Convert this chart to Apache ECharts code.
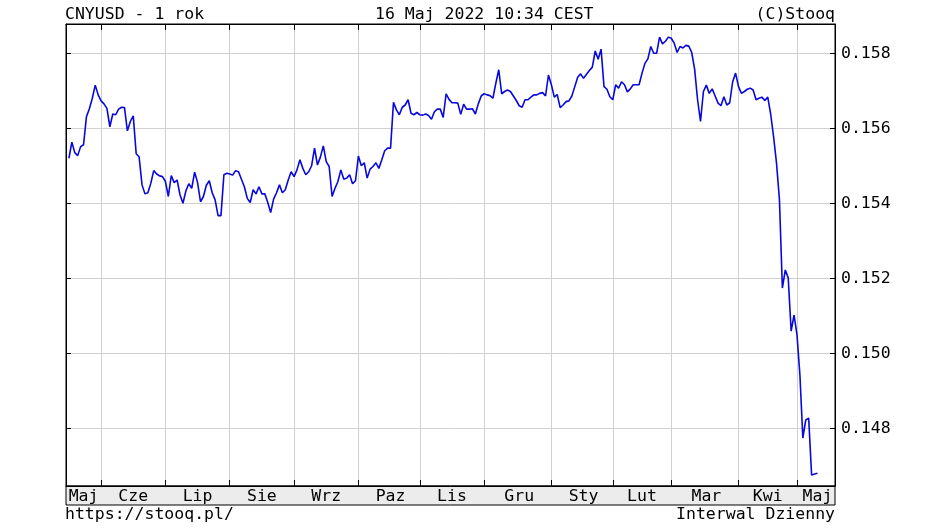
<!DOCTYPE html>
<html><head><meta charset="utf-8">
<script src="https://cdn.jsdelivr.net/npm/echarts@6/dist/echarts.min.js"></script>
<style>html,body{margin:0;padding:0;background:#fff}#c{width:940px;height:531px}</style>
</head><body><div id="c"></div>
<script>
// ---- data ----
const startDate = '2021-05-17';
const endDate = '2022-05-16';
const skippedDays = ['2022-04-15', '2022-05-02', '2022-05-03', '2022-05-04'];
const padBefore = ['2021-05-14'];
const padAfter = ['2022-05-17', '2022-05-18', '2022-05-19', '2022-05-20', '2022-05-23', '2022-05-24'];
const monthNames = ['Sty', 'Lut', 'Mar', 'Kwi', 'Maj', 'Cze', 'Lip', 'Sie', 'Wrz', 'Paz', 'Lis', 'Gru'];
const yMin = 0.14646;
const yMax = 0.15878;
const values = [
0.15520,0.15563,0.15535,0.15527,0.15551,0.15556,0.15631,0.15652,0.15680,0.15715,
0.15689,0.15673,0.15665,0.15653,0.15604,0.15638,0.15636,0.15651,0.15656,0.15655,
0.15593,0.15618,0.15633,0.15532,0.15524,0.15449,0.15425,0.15428,0.15453,0.15487,
0.15478,0.15473,0.15471,0.15458,0.15418,0.15474,0.15455,0.15462,0.15422,0.15400,
0.15433,0.15452,0.15440,0.15483,0.15455,0.15404,0.15418,0.15448,0.15460,0.15428,
0.15409,0.15367,0.15367,0.15476,0.15480,0.15478,0.15475,0.15487,0.15484,0.15464,
0.15444,0.15413,0.15402,0.15436,0.15425,0.15444,0.15425,0.15425,0.15402,0.15375,
0.15411,0.15428,0.15449,0.15428,0.15436,0.15462,0.15484,0.15471,0.15489,0.15516,
0.15493,0.15476,0.15484,0.15500,0.15547,0.15502,
0.15523,0.15553,0.15511,0.15498,0.15418,0.15440,0.15458,0.15489,0.15464,0.15467,
0.15476,0.15452,0.15460,0.15526,0.15500,0.15508,0.15467,0.15491,0.15498,0.15508,
0.15493,0.15516,0.15540,0.15547,0.15547,0.15669,0.15649,0.15636,0.15656,0.15662,
0.15676,0.15640,0.15636,0.15642,0.15636,0.15635,0.15638,0.15634,0.15624,0.15644,
0.15651,0.15651,0.15629,0.15692,0.15677,0.15668,0.15668,0.15667,0.15637,0.15664,
0.15651,0.15651,0.15652,0.15638,0.15665,0.15686,0.15692,0.15689,0.15687,0.15680,
0.15720,0.15756,0.15692,0.15698,0.15702,0.15698,0.15686,0.15674,0.15660,0.15656,
0.15676,0.15676,0.15683,0.15689,0.15689,0.15693,0.15695,0.15686,0.15742,0.15716,
0.15683,0.15690,
0.15655,0.15662,0.15671,0.15673,0.15686,0.15711,0.15736,0.15745,0.15733,0.15744,
0.15754,0.15763,0.15806,0.15784,0.15811,0.15711,0.15704,0.15684,0.15676,0.15716,
0.15707,0.15724,0.15716,0.15697,0.15705,0.15716,0.15716,0.15716,0.15747,0.15773,
0.15785,0.15818,0.15800,0.15800,0.15843,0.15825,0.15832,0.15843,0.15840,0.15827,
0.15802,0.15818,0.15814,0.15821,0.15819,0.15802,0.15757,0.15676,0.15618,0.15698,
0.15715,0.15693,0.15705,0.15686,0.15667,0.15660,0.15684,0.15662,0.15668,0.15724,
0.15747,0.15711,0.15693,0.15698,0.15704,0.15707,0.15702,0.15676,0.15680,0.15683,
0.15674,0.15683,
0.15638,0.15577,0.15507,0.15409,0.15174,0.15222,0.15201,0.15059,0.15102,0.15049,
0.14942,0.14774,0.14822,0.14827,0.14675,0.14678,0.14680
];

// ---- build ----
function iso(d) { return d.toISOString().slice(0, 10); }
const dates = [];
for (let d = new Date(startDate + 'T00:00:00Z'); iso(d) <= endDate; d.setUTCDate(d.getUTCDate() + 1)) {
  const wd = d.getUTCDay();
  const s = iso(d);
  if (wd !== 0 && wd !== 6 && skippedDays.indexOf(s) < 0) dates.push(s);
}
const categories = padBefore.concat(dates, padAfter);
const seriesData = dates.map((d, i) => [d, values[i]]);

const boundaries = new Set();
const starts = [0];
for (let k = 1; k < categories.length; k++) {
  if (categories[k].slice(0, 7) !== categories[k - 1].slice(0, 7)) { boundaries.add(k); starts.push(k); }
}
const labelMap = {};
for (let j = 0; j < starts.length; j++) {
  const s = starts[j];
  const e = j + 1 < starts.length ? starts[j + 1] : categories.length - 1;
  const mid = Math.round((s + e) / 2);
  labelMap[mid] = monthNames[parseInt(categories[s].slice(5, 7), 10) - 1];
}

const FONT = 'DejaVu Sans Mono';
const FS = 16.5;
const chart = echarts.init(document.getElementById('c'), null, { renderer: 'canvas' });
chart.setOption({
  animation: false,
  backgroundColor: '#fff',
  textStyle: { fontFamily: FONT },
  title: [
    { text: 'CNYUSD - 1 rok', left: 65, top: 6, padding: 0, textStyle: { fontFamily: FONT, fontSize: FS, fontWeight: 'normal', color: '#000' } },
    { text: '16 Maj 2022 10:34 CEST', left: 375, top: 6, padding: 0, textStyle: { fontFamily: FONT, fontSize: FS, fontWeight: 'normal', color: '#000' } },
    { text: '(C)Stooq', right: 105, top: 6, padding: 0, textStyle: { fontFamily: FONT, fontSize: FS, fontWeight: 'normal', color: '#000' } },
    { text: 'https://stooq.pl/', left: 65, top: 506, padding: 0, textStyle: { fontFamily: FONT, fontSize: FS, fontWeight: 'normal', color: '#000' } },
    { text: 'Interwal Dzienny', right: 105, top: 506, padding: 0, textStyle: { fontFamily: FONT, fontSize: FS, fontWeight: 'normal', color: '#000' } }
  ],
  graphic: [
    { type: 'rect', z: -1, shape: { x: 66, y: 486, width: 769, height: 19 }, style: { fill: '#ececec', stroke: '#000', lineWidth: 1 } }
  ],
  grid: { left: 66, right: 105, top: 24, bottom: 45, show: true, borderColor: '#000', borderWidth: 1 },
  xAxis: [
    {
      type: 'category', data: categories, boundaryGap: false, position: 'bottom',
      axisLine: { show: true, lineStyle: { color: '#000' } },
      axisTick: { show: true, inside: true, length: 6, interval: (i) => boundaries.has(i), lineStyle: { color: '#000' } },
      axisLabel: { show: true, interval: (i) => labelMap.hasOwnProperty(i), formatter: (v, i) => labelMap[i] || '', margin: 2, color: '#000', fontFamily: FONT, fontSize: FS },
      splitLine: { show: true, interval: (i) => boundaries.has(i), lineStyle: { color: '#d0d0d0', width: 1 } }
    },
    {
      type: 'category', data: categories, boundaryGap: false, position: 'top',
      axisLine: { show: true, lineStyle: { color: '#000' } },
      axisTick: { show: true, inside: true, length: 6, interval: (i) => boundaries.has(i), lineStyle: { color: '#000' } },
      axisLabel: { show: false },
      splitLine: { show: false }
    }
  ],
  yAxis: [
    {
      type: 'value', position: 'right', min: yMin, max: yMax, splitNumber: 6,
      axisLine: { show: true, lineStyle: { color: '#000' } },
      axisTick: { show: true, inside: true, length: 5, lineStyle: { color: '#000' } },
      axisLabel: { show: true, margin: 6, color: '#000', fontFamily: FONT, fontSize: FS, showMinLabel: false, showMaxLabel: false, formatter: (v) => v.toFixed(3) },
      splitLine: { show: true, lineStyle: { color: '#d0d0d0', width: 1 } }
    },
    {
      type: 'value', position: 'left', min: yMin, max: yMax, splitNumber: 6,
      axisLine: { show: true, lineStyle: { color: '#000' } },
      axisTick: { show: true, inside: true, length: 5, lineStyle: { color: '#000' } },
      axisLabel: { show: false },
      splitLine: { show: false }
    }
  ],
  series: [{
    type: 'line', xAxisIndex: 0, yAxisIndex: 0, data: seriesData, showSymbol: false, symbol: 'none',
    lineStyle: { color: '#0808dc', width: 1.6 }, z: 3
  }]
});
</script>
</body></html>
